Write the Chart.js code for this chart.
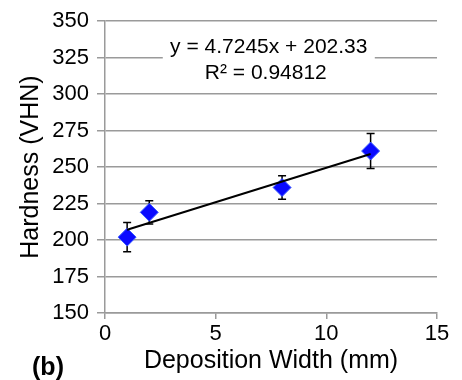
<!DOCTYPE html>
<html>
<head>
<meta charset="utf-8">
<title>Hardness vs deposition width</title>
<script src="https://cdn.jsdelivr.net/npm/chart.js@4.4.0/dist/chart.umd.min.js"></script>
<style>
  html, body { margin: 0; padding: 0; background: #fff; }
  #chart { display: block; }
</style>
</head>
<body>
<canvas id="chart" width="462" height="380"></canvas>
<script>
const widths = [1, 2, 8, 12];            // deposition width, mm
const hardness = [202, 219, 236, 261];   // VHN
const errors = [10, 8, 8, 12];           // +/- error bar size

// Excel linear trendline as drawn (end points) and its label
const trendX = [1, 12];
const trendY = [207.05, 259.02];
const eqLines = ['y = 4.7245x + 202.33', 'R\u00b2 = 0.94812'];

const xTicks = [0, 5, 10, 15];
const yTicks = [150, 175, 200, 225, 250, 275, 300, 325, 350];

const FONT = "'Liberation Sans', Arial, sans-serif";
const GRID = '#9a9a9a';

// error bars, equation box and panel letter
const extras = {
    id: 'extras',
    beforeDatasetsDraw(chart) {
        const ctx = chart.ctx;
        const xs = chart.scales.x, ys = chart.scales.y;
        ctx.save();
        ctx.strokeStyle = '#000';
        ctx.lineWidth = 1.5;
        for (let i = 0; i < widths.length; i++) {
            const px = xs.getPixelForValue(widths[i]);
            const top = ys.getPixelForValue(hardness[i] + errors[i]);
            const bot = ys.getPixelForValue(hardness[i] - errors[i]);
            ctx.beginPath();
            ctx.moveTo(px, top); ctx.lineTo(px, bot);
            ctx.moveTo(px - 4, top); ctx.lineTo(px + 4, top);
            ctx.moveTo(px - 4, bot); ctx.lineTo(px + 4, bot);
            ctx.stroke();
        }
        ctx.restore();
    },
    afterDraw(chart) {
        const ctx = chart.ctx;
        const xs = chart.scales.x, ys = chart.scales.y;
        const cx = xs.getPixelForValue(7.4);
        const y1 = ys.getPixelForValue(332);
        const y2 = ys.getPixelForValue(314.5);
        ctx.save();
        // white box hides the 325 gridline behind the label
        ctx.fillStyle = '#fff';
        ctx.fillRect(cx - 106, y1 - 17, 212, y2 - y1 + 34);
        ctx.fillStyle = '#000';
        ctx.font = '21px ' + FONT;
        ctx.textAlign = 'center';
        ctx.textBaseline = 'middle';
        ctx.fillText(eqLines[0], cx, y1);
        ctx.fillText(eqLines[1], cx - 3, y2);
        ctx.font = 'bold 25px ' + FONT;
        ctx.fillText('(b)', 48, 368);
        ctx.restore();
    }
};

new Chart(document.getElementById('chart'), {
    type: 'scatter',
    data: {
        datasets: [
            {
                type: 'line',
                label: 'Linear trend',
                data: trendX.map((x, i) => ({ x: x, y: trendY[i] })),
                borderColor: '#000',
                borderWidth: 2,
                pointRadius: 0,
                fill: false
            },
            {
                label: 'Hardness',
                data: widths.map((w, i) => ({ x: w, y: hardness[i] })),
                pointStyle: 'rectRot',
                pointRadius: 9,
                backgroundColor: '#0a0aff',
                borderColor: '#3a5cff',
                borderWidth: 1
            }
        ]
    },
    options: {
        responsive: false,
        animation: false,
        devicePixelRatio: 1,
        layout: { padding: { top: 19, right: 25, left: 0, bottom: 0 } },
        plugins: {
            legend: { display: false },
            tooltip: { enabled: false }
        },
        scales: {
            x: {
                type: 'linear',
                min: 0,
                max: 15,
                afterBuildTicks: s => { s.ticks = xTicks.map(v => ({ value: v })); },
                afterFit: s => { s.height = 67; },
                ticks: { color: '#000', font: { family: FONT, size: 22 }, padding: 2, maxRotation: 0 },
                grid: { drawOnChartArea: false, drawTicks: true, tickLength: 6, color: GRID, lineWidth: 1.5 },
                border: { color: GRID, width: 1.5 },
                title: {
                    display: true,
                    text: 'Deposition Width (mm)',
                    color: '#000',
                    font: { family: FONT, size: 25 },
                    padding: { top: 0, bottom: 4 }
                }
            },
            y: {
                type: 'linear',
                min: 150,
                max: 350,
                afterBuildTicks: s => { s.ticks = yTicks.map(v => ({ value: v })); },
                afterFit: s => { s.width = 105; },
                ticks: { color: '#000', font: { family: FONT, size: 22 }, padding: 8 },
                grid: { color: GRID, lineWidth: 1.5, tickLength: 8 },
                border: { color: GRID, width: 1.5 },
                title: {
                    display: true,
                    text: 'Hardness (VHN)',
                    color: '#000',
                    font: { family: FONT, size: 25 },
                    padding: { top: 16, bottom: 0 }
                }
            }
        }
    },
    plugins: [extras]
});
</script>
</body>
</html>
